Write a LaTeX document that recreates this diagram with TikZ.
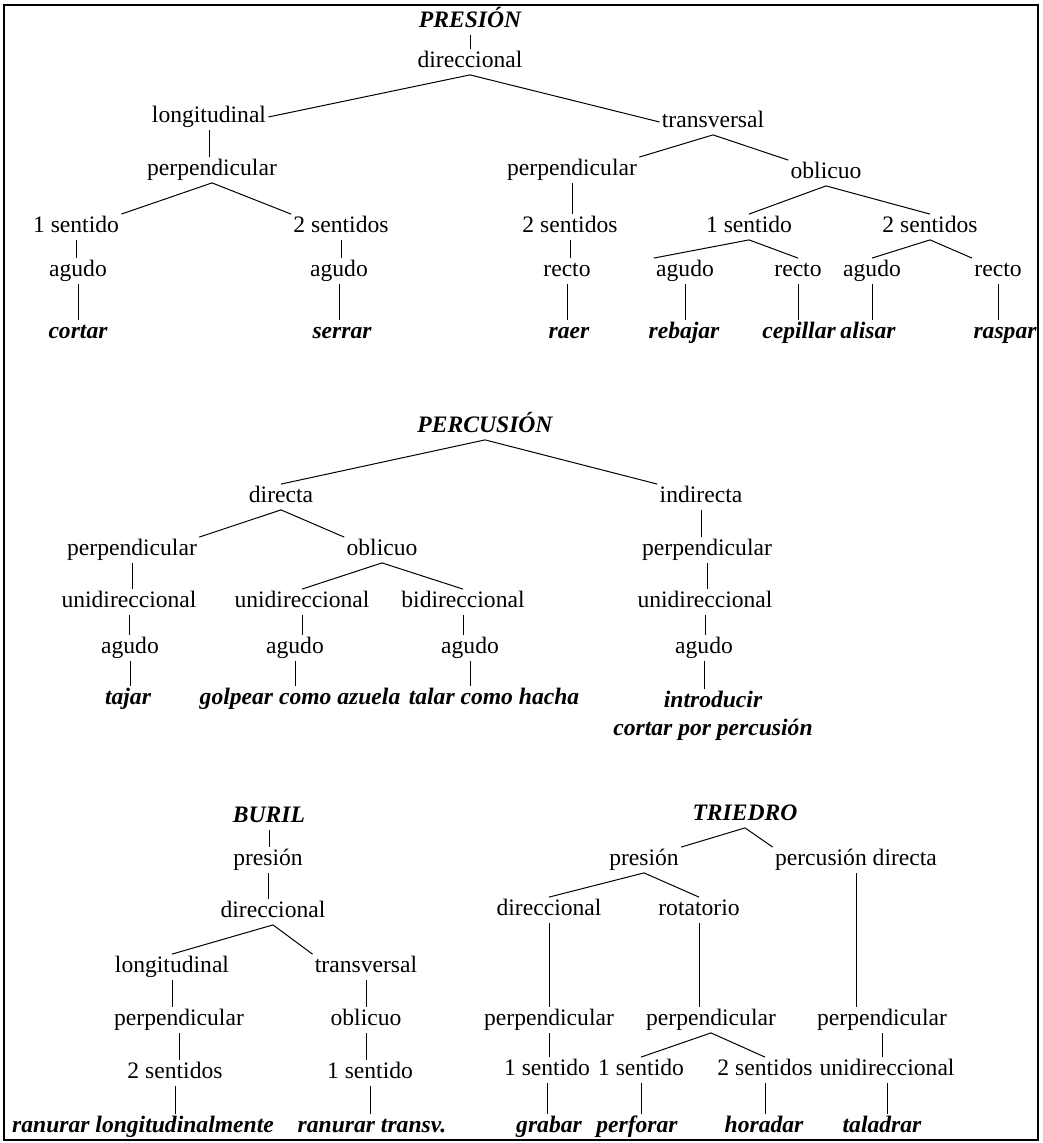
\documentclass[tikz,border=0pt]{standalone}
\usepackage{fontspec}
\setmainfont{Liberation Serif}
\usepackage{tikz}

\begin{document}
\begin{tikzpicture}[
	x=0.5pt,y=-0.5pt,
	rasgo/.style={inner sep=1pt,text height=8pt,text depth=2.5pt,font=\fontsize{11.8}{13}\selectfont},
	accion/.style={rasgo,font=\fontsize{11.8}{13}\selectfont\bfseries\itshape},
	titulo/.style={accion},
	rama/.style={line width=0.5pt}
	]

	\useasboundingbox (0,0) rectangle (1042,1143);
	\draw[line width=0.8pt] (4,5) rectangle (1038,1140);

	% Arbol PRESION
	\node[titulo] (pres) at (470,22) {PRESIÓN};
	\node[rasgo] (pdir) at (470,62) {direccional};
	\node[rasgo] (plong) at (209,117) {longitudinal};
	\node[rasgo] (ptrans) at (713,122) {transversal};

	\node[rasgo] (plperp) at (212,170) {perpendicular};
	\node[rasgo] (pl1s) at (76,227) {1 sentido};
	\node[rasgo] (pl2s) at (341,227) {2 sentidos};
	\node[rasgo] (pl1ag) at (78,271) {agudo};
	\node[rasgo] (pl2ag) at (339,271) {agudo};
	\node[accion] (cortar) at (78,333) {cortar};
	\node[accion] (serrar) at (342,333) {serrar};

	\node[rasgo] (ptperp) at (572,170) {perpendicular};
	\node[rasgo] (ptobl) at (826,173) {oblicuo};
	\node[rasgo] (ptp2s) at (570,227) {2 sentidos};
	\node[rasgo] (pto1s) at (749,227) {1 sentido};
	\node[rasgo] (pto2s) at (930,227) {2 sentidos};
	\node[rasgo] (ptprec) at (567,271) {recto};
	\node[rasgo] (pto1ag) at (685,271) {agudo};
	\node[rasgo] (pto1rec) at (798,271) {recto};
	\node[rasgo] (pto2ag) at (872,271) {agudo};
	\node[rasgo] (pto2rec) at (998,271) {recto};
	\node[accion] (raer) at (569,333) {raer};
	\node[accion] (rebajar) at (684,333) {rebajar};
	\node[accion] (cepillar) at (799,333) {cepillar};
	\node[accion] (alisar) at (868,333) {alisar};
	\node[accion] (raspar) at (1005,333) {raspar};

	\draw[rama] (pres.south) -- (pres.south |- pdir.north);
	\draw[rama] (pdir.south) -- (plong.east);
	\draw[rama] (pdir.south) -- (ptrans.west);
	\draw[rama] (plong.south) -- (plong.south |- plperp.north);
	\draw[rama] (plperp.south) -- (pl1s.north east);
	\draw[rama] (plperp.south) -- (pl2s.north west);
	\draw[rama] (pl1s.south) -- (pl1s.south |- pl1ag.north);
	\draw[rama] (pl2s.south) -- (pl2s.south |- pl2ag.north);
	\draw[rama] (pl1ag.south) -- (pl1ag.south |- cortar.north);
	\draw[rama] (pl2ag.south) -- (pl2ag.south |- serrar.north);
	\draw[rama] (ptrans.south) -- (ptperp.north east);
	\draw[rama] (ptrans.south) -- (ptobl.north west);
	\draw[rama] (ptperp.south) -- (ptperp.south |- ptp2s.north);
	\draw[rama] (ptp2s.south) -- (ptp2s.south |- ptprec.north);
	\draw[rama] (ptprec.south) -- (ptprec.south |- raer.north);
	\draw[rama] (ptobl.south) -- (pto1s.north);
	\draw[rama] (ptobl.south) -- (pto2s.north);
	\draw[rama] (pto1s.south) -- (pto1ag.north west);
	\draw[rama] (pto1s.south) -- (pto1rec.north);
	\draw[rama] (pto2s.south) -- (pto2ag.north);
	\draw[rama] (pto2s.south) -- (pto2rec.north west);
	\draw[rama] (pto1ag.south) -- (pto1ag.south |- rebajar.north);
	\draw[rama] (pto1rec.south) -- (pto1rec.south |- cepillar.north);
	\draw[rama] (pto2ag.south) -- (pto2ag.south |- alisar.north);
	\draw[rama] (pto2rec.south) -- (pto2rec.south |- raspar.north);

	% Arbol PERCUSION
	\node[titulo] (perc) at (485,427) {PERCUSIÓN};
	\node[rasgo] (cdir) at (281,497) {directa};
	\node[rasgo] (cind) at (701,497) {indirecta};
	\node[rasgo] (cdperp) at (132,550) {perpendicular};
	\node[rasgo] (cdobl) at (382,550) {oblicuo};
	\node[rasgo] (cduni) at (129,602) {unidireccional};
	\node[rasgo] (couni) at (302,602) {unidireccional};
	\node[rasgo] (cobi) at (463,602) {bidireccional};
	\node[rasgo] (cdag) at (130,648) {agudo};
	\node[rasgo] (coag) at (295,648) {agudo};
	\node[rasgo] (cobag) at (470,648) {agudo};
	\node[accion] (tajar) at (128,699) {tajar};
	\node[accion] (golpear) at (300,699) {golpear como azuela};
	\node[accion] (talar) at (494,699) {talar como hacha};
	\node[rasgo] (ciperp) at (707,550) {perpendicular};
	\node[rasgo] (ciuni) at (705,602) {unidireccional};
	\node[rasgo] (ciag) at (704,648) {agudo};
	\node[inner sep=1pt,align=center,font=\fontsize{11.8}{14}\selectfont\bfseries\itshape]
		(introd) at (713,716) {introducir\\cortar por percusión};

	\draw[rama] (perc.south) -- (cdir.north);
	\draw[rama] (perc.south) -- (cind.north west);
	\draw[rama] (cdir.south) -- (cdperp.north east);
	\draw[rama] (cdir.south) -- (cdobl.north west);
	\draw[rama] (cdobl.south) -- (couni.north);
	\draw[rama] (cdobl.south) -- (cobi.north);
	\draw[rama] (cdperp.south) -- (cdperp.south |- cduni.north);
	\draw[rama] (cduni.south) -- (cduni.south |- cdag.north);
	\draw[rama] (cdag.south) -- (cdag.south |- tajar.north);
	\draw[rama] (couni.south) -- (couni.south |- coag.north);
	\draw[rama] (coag.south) -- (coag.south |- golpear.north);
	\draw[rama] (cobi.south) -- (cobi.south |- cobag.north);
	\draw[rama] (cobag.south) -- (cobag.south |- talar.north);
	\draw[rama] (cind.south) -- (cind.south |- ciperp.north);
	\draw[rama] (ciperp.south) -- (ciperp.south |- ciuni.north);
	\draw[rama] (ciuni.south) -- (ciuni.south |- ciag.north);
	\draw[rama] (ciag.south) -- (ciag.south |- introd.north);

	% Arbol BURIL
	\node[titulo] (buril) at (269,817) {BURIL};
	\node[rasgo] (bpres) at (268,860) {presión};
	\node[rasgo] (bdir) at (273,912) {direccional};
	\node[rasgo] (blong) at (172,967) {longitudinal};
	\node[rasgo] (btrans) at (366,967) {transversal};
	\node[rasgo] (bperp) at (179,1020) {perpendicular};
	\node[rasgo] (bobl) at (366,1020) {oblicuo};
	\node[rasgo] (b2s) at (175,1073) {2 sentidos};
	\node[rasgo] (b1s) at (370,1073) {1 sentido};
	\node[accion] (ranlong) at (143,1127) {ranurar longitudinalmente};
	\node[accion] (rantr) at (372,1127) {ranurar transv.};

	\draw[rama] (buril.south) -- (buril.south |- bpres.north);
	\draw[rama] (bpres.south) -- (bpres.south |- bdir.north);
	\draw[rama] (bdir.south) -- (blong.north);
	\draw[rama] (bdir.south) -- (btrans.north west);
	\draw[rama] (blong.south) -- (blong.south |- bperp.north);
	\draw[rama] (bperp.south) -- (bperp.south |- b2s.north);
	\draw[rama] (b2s.south) -- (b2s.south |- ranlong.north);
	\draw[rama] (btrans.south) -- (btrans.south |- bobl.north);
	\draw[rama] (bobl.south) -- (bobl.south |- b1s.north);
	\draw[rama] (b1s.south) -- (b1s.south |- rantr.north);

	% Arbol TRIEDRO
	\node[titulo] (tri) at (745,815) {TRIEDRO};
	\node[rasgo] (tpres) at (644,860) {presión};
	\node[rasgo] (tperc) at (856,860) {percusión directa};
	\node[rasgo] (tdir) at (549,910) {direccional};
	\node[rasgo] (trot) at (699,910) {rotatorio};
	\node[rasgo] (tperp1) at (549,1020) {perpendicular};
	\node[rasgo] (tperp2) at (711,1020) {perpendicular};
	\node[rasgo] (tperp3) at (882,1020) {perpendicular};
	\node[rasgo] (t1s) at (547,1070) {1 sentido};
	\node[rasgo] (t1sb) at (641,1070) {1 sentido};
	\node[rasgo] (t2s) at (765,1070) {2 sentidos};
	\node[rasgo] (tuni) at (887,1070) {unidireccional};
	\node[accion] (grabar) at (549,1127) {grabar};
	\node[accion] (perforar) at (637,1127) {perforar};
	\node[accion] (horadar) at (764,1127) {horadar};
	\node[accion] (taladrar) at (882,1127) {taladrar};

	\draw[rama] (tri.south) -- (tpres.north east);
	\draw[rama] (tri.south) -- (tperc.north west);
	\draw[rama] (tpres.south) -- (tdir.north);
	\draw[rama] (tpres.south) -- (trot.north);
	\draw[rama] (tdir.south) -- (tdir.south |- tperp1.north);
	\draw[rama] (trot.south) -- (trot.south |- tperp2.north);
	\draw[rama] (tperc.south) -- (tperc.south |- tperp3.north);
	\draw[rama] (tperp1.south) -- (tperp1.south |- t1s.north);
	\draw[rama] (tperp2.south) -- (t1sb.north);
	\draw[rama] (tperp2.south) -- (t2s.north);
	\draw[rama] (tperp3.south) -- (tperp3.south |- tuni.north);
	\draw[rama] (t1s.south) -- (t1s.south |- grabar.north);
	\draw[rama] (t1sb.south) -- (t1sb.south |- perforar.north);
	\draw[rama] (t2s.south) -- (t2s.south |- horadar.north);
	\draw[rama] (tuni.south) -- (tuni.south |- taladrar.north);

\end{tikzpicture}
\end{document}
